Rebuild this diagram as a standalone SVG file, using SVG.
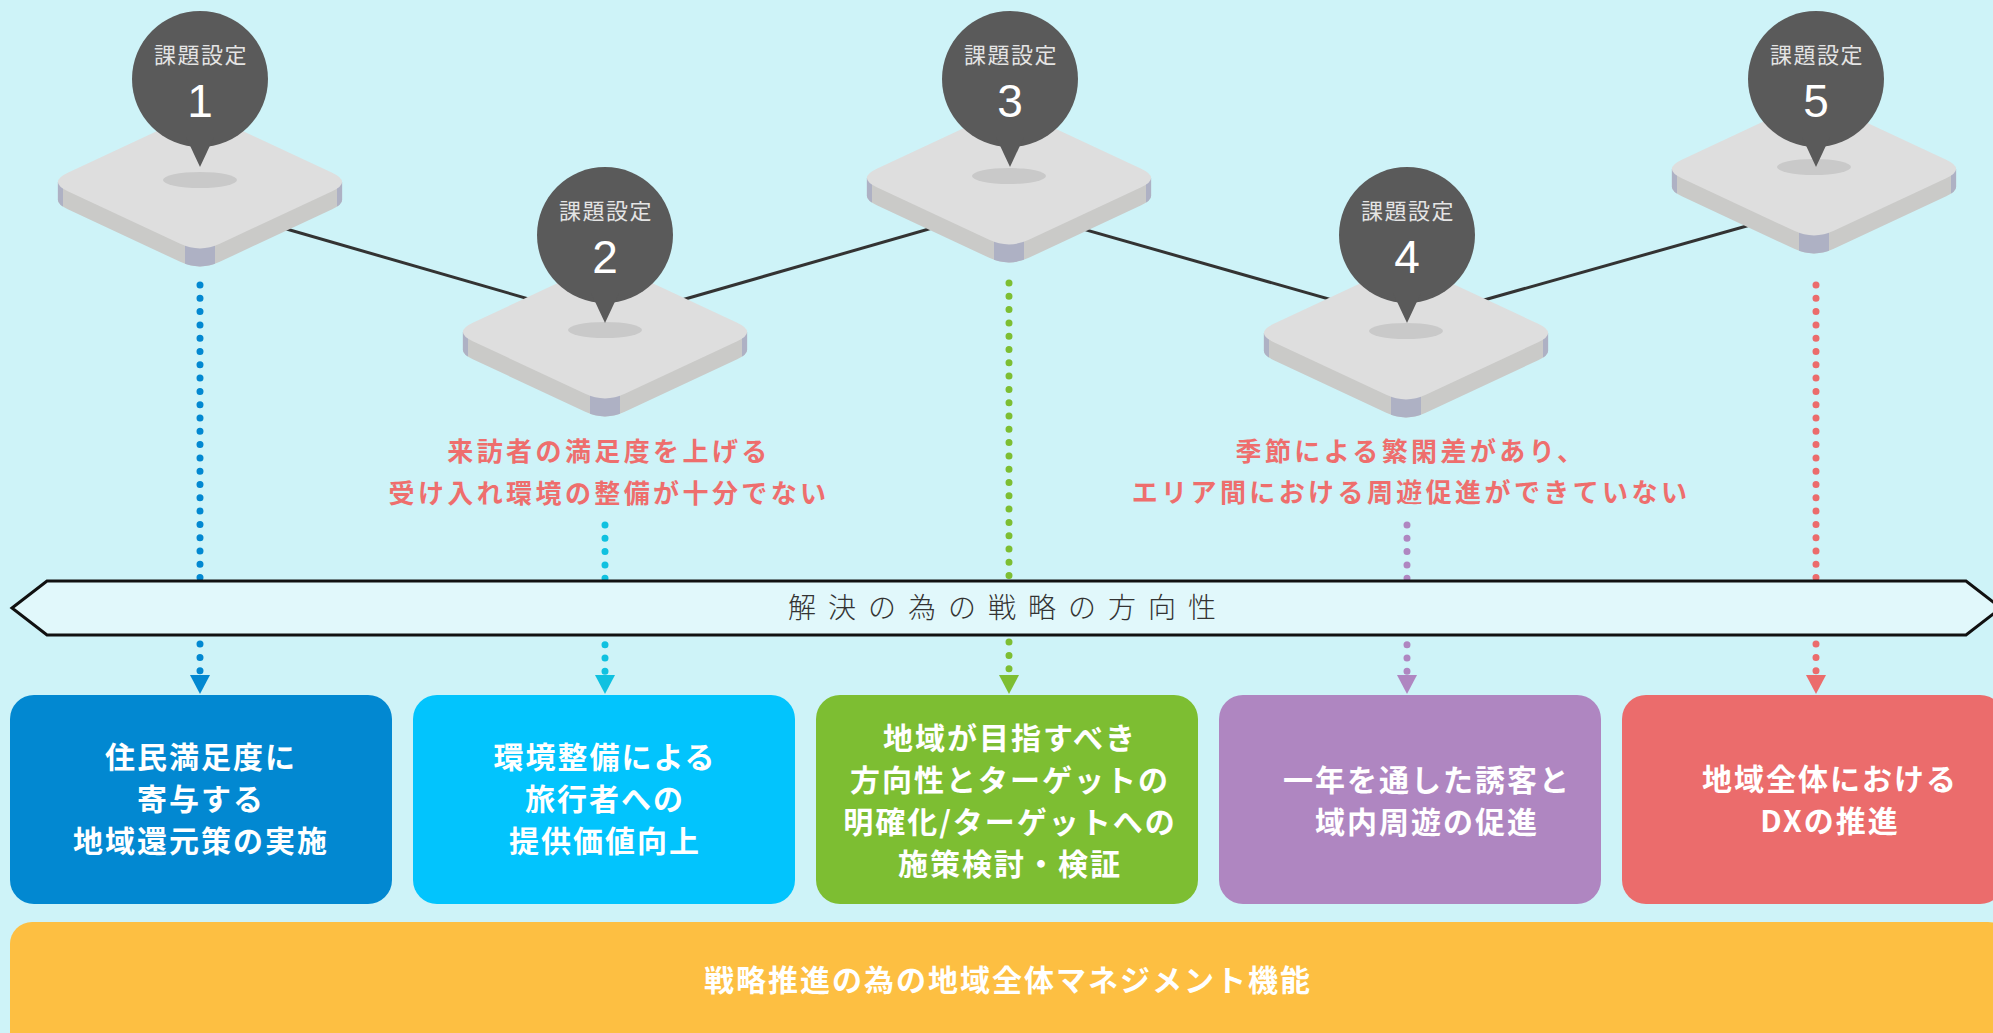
<svg xmlns="http://www.w3.org/2000/svg" xmlns:xlink="http://www.w3.org/1999/xlink" width="1993" height="1033" viewBox="0 0 1993 1033">
  <style>
    text { font-family: "Noto Sans CJK JP", "Noto Sans", "Liberation Sans", sans-serif; text-anchor: middle; }
    .top { fill: #DEDEDE; }
    .side { fill: #CACAC8; }
    .edge { fill: #AEB1C4; }
    .spot { fill: #C9C9C9; }
    .pin { fill: #5A5A5A; }
    .pin-label { font-size: 22px; fill: #E4E4E4; letter-spacing: 1.5px; font-weight: 400; }
    .pin-num { font-family: "Liberation Sans", "DejaVu Sans", sans-serif; font-size: 46px; fill: #FFFFFF; font-weight: 400; }
    .link { stroke: #333333; stroke-width: 3; fill: none; }
    .dots { fill: none; stroke-width: 7; stroke-linecap: round; stroke-dasharray: 0 13.3; }
    .issue { font-size: 26px; font-weight: 700; fill: #EE6E6D; letter-spacing: 3.4px; }
    .band { fill: #E1F8FB; stroke: #111111; stroke-width: 3; stroke-linejoin: miter; }
    .band-text { font-size: 28px; font-weight: 300; fill: #333333; letter-spacing: 12px; }
    .box-text { font-size: 30px; font-weight: 700; fill: #FFFFFF; letter-spacing: 2px; }
  </style>
  <defs>
    <!-- rounded isometric tile, centred on its top face -->
    <path id="tileFace" d="M-132.2,-9.2 L-19.8,-61.8 Q0,-71 19.8,-61.8 L132.2,-9.2 Q152,0 132.2,9.2 L19.8,61.8 Q0,71 -19.8,61.8 L-132.2,9.2 Q-152,0 -132.2,-9.2 Z"/>
    <clipPath id="tileSideClip">
      <use xlink:href="#tileFace" transform="translate(0,18)"/>
      <rect x="-142.1" y="0" width="284.2" height="18"/>
    </clipPath>
    <g id="tile">
      <use xlink:href="#tileFace" class="side" transform="translate(0,18)"/>
      <rect class="side" x="-142.1" y="0" width="284.2" height="18"/>
      <g clip-path="url(#tileSideClip)">
        <rect class="edge" x="-144" y="-6" width="7" height="32"/>
        <rect class="edge" x="137" y="-6" width="7" height="32"/>
        <rect class="edge" x="-15" y="40" width="30" height="55"/>
      </g>
      <use xlink:href="#tileFace" class="top"/>
      <ellipse class="spot" cx="0" cy="-2" rx="37" ry="8"/>
    </g>
    <!-- speech-pin marker, centred on its circle -->
    <g id="pinShape">
      <circle class="pin" cx="0" cy="0" r="68"/>
      <polygon class="pin" points="-14,58 14,58 0,88"/>
    </g>
  </defs>

  <!-- background -->
  <rect x="0" y="0" width="1993" height="1033" fill="#CEF3F8"/>

  <!-- connectors -->
  <g id="connectors">
    <line class="link" x1="200" y1="204" x2="605" y2="321"/>
    <line class="link" x1="605" y1="322" x2="1009" y2="206"/>
    <line class="link" x1="1009" y1="208" x2="1406" y2="321"/>
    <line class="link" x1="1406" y1="322" x2="1814" y2="207"/>

    <line class="dots" stroke="#0288D1" x1="200" y1="285" x2="200" y2="672"/>
    <polygon fill="#0288D1" points="190,675 210,675 200,694"/>

    <line class="dots" stroke="#10C1E0" x1="605" y1="525" x2="605" y2="672"/>
    <polygon fill="#10C1E0" points="595,675 615,675 605,694"/>

    <line class="dots" stroke="#7DBE32" x1="1009" y1="283" x2="1009" y2="672"/>
    <polygon fill="#7DBE32" points="999,675 1019,675 1009,694"/>

    <line class="dots" stroke="#AF86C1" x1="1407" y1="525" x2="1407" y2="672"/>
    <polygon fill="#AF86C1" points="1397,675 1417,675 1407,694"/>

    <line class="dots" stroke="#EB6C6C" x1="1816" y1="285" x2="1816" y2="672"/>
    <polygon fill="#EB6C6C" points="1806,675 1826,675 1816,694"/>
  </g>

  <!-- issue 1 -->
  <g id="issue-1">
    <use xlink:href="#tile" transform="translate(200,182)"/>
    <use xlink:href="#pinShape" transform="translate(200,79)"/>
    <text class="pin-label" x="201" y="63">課題設定</text>
    <text class="pin-num" x="200" y="117">1</text>
  </g>

  <!-- issue 2 -->
  <g id="issue-2">
    <use xlink:href="#tile" transform="translate(605,332)"/>
    <use xlink:href="#pinShape" transform="translate(605,235)"/>
    <text class="pin-label" x="606" y="219">課題設定</text>
    <text class="pin-num" x="605" y="273">2</text>
    <text class="issue" x="609" y="461">来訪者の満足度を上げる</text>
    <text class="issue" x="609" y="503">受け入れ環境の整備が十分でない</text>
  </g>

  <!-- issue 3 -->
  <g id="issue-3">
    <use xlink:href="#tile" transform="translate(1009,178)"/>
    <use xlink:href="#pinShape" transform="translate(1010,79)"/>
    <text class="pin-label" x="1011" y="63">課題設定</text>
    <text class="pin-num" x="1010" y="117">3</text>
  </g>

  <!-- issue 4 -->
  <g id="issue-4">
    <use xlink:href="#tile" transform="translate(1406,333)"/>
    <use xlink:href="#pinShape" transform="translate(1407,235)"/>
    <text class="pin-label" x="1408" y="219">課題設定</text>
    <text class="pin-num" x="1407" y="273">4</text>
    <text class="issue" x="1411" y="461">季節による繁閑差があり、</text>
    <text class="issue" x="1411" y="502">エリア間における周遊促進ができていない</text>
  </g>

  <!-- issue 5 -->
  <g id="issue-5">
    <use xlink:href="#tile" transform="translate(1814,169)"/>
    <use xlink:href="#pinShape" transform="translate(1816,79)"/>
    <text class="pin-label" x="1817" y="63">課題設定</text>
    <text class="pin-num" x="1816" y="117">5</text>
  </g>

  <!-- strategy direction band -->
  <g id="strategy-band">
    <polygon class="band" points="12,608 47,581 1966,581 2001,608 1966,635 47,635"/>
    <text class="band-text" x="1008" y="618">解決の為の戦略の方向性</text>
  </g>

  <!-- strategy boxes -->
  <g id="strategy-1">
    <rect x="10" y="695" width="382" height="209" rx="24" fill="#0288D1"/>
    <text class="box-text" x="201" y="768">住民満足度に</text>
    <text class="box-text" x="201" y="810">寄与する</text>
    <text class="box-text" x="201" y="852">地域還元策の実施</text>
  </g>

  <g id="strategy-2">
    <rect x="413" y="695" width="382" height="209" rx="24" fill="#02C4FD"/>
    <text class="box-text" x="605" y="768">環境整備による</text>
    <text class="box-text" x="605" y="810">旅行者への</text>
    <text class="box-text" x="605" y="852">提供価値向上</text>
  </g>

  <g id="strategy-3">
    <rect x="816" y="695" width="382" height="209" rx="24" fill="#7DBE32"/>
    <text class="box-text" x="1010" y="749">地域が目指すべき</text>
    <text class="box-text" x="1010" y="791">方向性とターゲットの</text>
    <text class="box-text" x="1010" y="833">明確化/ターゲットへの</text>
    <text class="box-text" x="1010" y="875">施策検討・検証</text>
  </g>

  <g id="strategy-4">
    <rect x="1219" y="695" width="382" height="209" rx="24" fill="#AF86C1"/>
    <text class="box-text" x="1427" y="791">一年を通した誘客と</text>
    <text class="box-text" x="1427" y="833">域内周遊の促進</text>
  </g>

  <g id="strategy-5">
    <rect x="1622" y="695" width="382" height="209" rx="24" fill="#EB6C6C"/>
    <text class="box-text" x="1830" y="790">地域全体における</text>
    <text class="box-text" x="1830" y="832">DXの推進</text>
  </g>

  <!-- management foundation -->
  <g id="management">
    <rect x="10" y="922" width="2000" height="140" rx="22" fill="#FDBF42"/>
    <text class="box-text" x="1008" y="991">戦略推進の為の地域全体マネジメント機能</text>
  </g>
</svg>
